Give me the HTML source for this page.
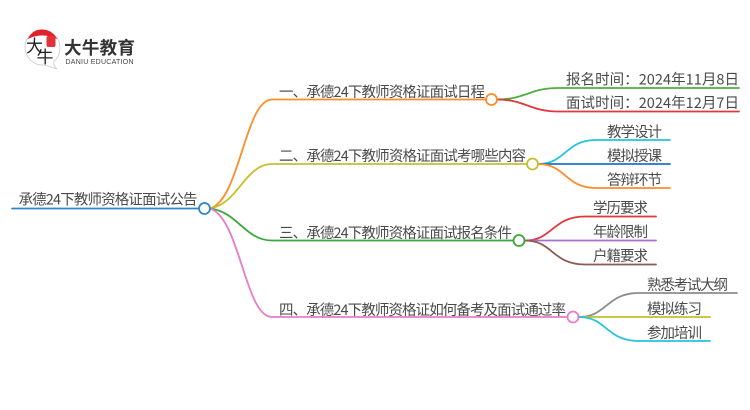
<!DOCTYPE html>
<html lang="zh">
<head>
<meta charset="utf-8">
<style>
html,body{margin:0;padding:0;background:#fff;}
svg{display:block;}
text{font-family:"Noto Sans CJK SC","WenQuanYi Zen Hei",sans-serif;font-size:14.5px;fill:#4a4a4a;font-weight:400;}
path,line{fill:none;stroke-width:1.8;stroke-linecap:round;}
circle{fill:#fff;stroke-width:1.8;}
</style>
</head>
<body>
<svg width="750" height="410" viewBox="0 0 750 410" xmlns="http://www.w3.org/2000/svg">
<!-- logo -->
<path d="M42 30 C33 30 25 38 25 47 C25 57 33 65 42 65 C46 65 51 67 57 69 C54 66 53 64 54 61 C58 58 60 53 60 47 C60 38 52 30 42 30 Z" style="stroke:#c8c8c8;stroke-width:.8;fill:#fff"/>
<path d="M29 38 C32 32 37 30 42 30 C47 30 52 32 56 38 C47 34 37 34 29 38 Z" style="fill:#e2222a;stroke:#e2222a;stroke-width:1"/>
<rect x="46.500" y="36" width="9" height="11" rx="2" fill="#e2323a"/>
<text x="26" y="52" style="font-size:17px;fill:#222">大</text>
<text x="36.500" y="63" style="font-size:17px;fill:#222">牛</text>
<text x="64" y="54" textLength="71" style="font-size:17.500px;font-weight:700;fill:#333">大牛教育</text>
<text x="65.500" y="64" textLength="68" style="font-family:'Liberation Sans',sans-serif;font-size:7px;fill:#444">DANIU EDUCATION</text>

<!-- root -->
<line x1="12" y1="208.500" x2="199" y2="208.500" stroke="#2e86c8"/>
<text x="18.500" y="204.500" textLength="179">承德24下教师资格证面试公告</text>

<!-- main branches -->
<path d="M210 208.500 C240 200 245 99.500 272 99.500 L486 99.500" stroke="#ff8c28"/>
<path d="M210 208.500 C238 204 245 164 272 164 L527 164" stroke="#c4c02c"/>
<path d="M210 208.500 C238 212 245 240.500 272 240.500 L513 240.500" stroke="#3aa83a"/>
<path d="M210 208.500 C240 218 245 317 272 317 L567 317" stroke="#e87cc8"/>

<!-- leaf branches 1 -->
<path d="M497 99.500 C525 99.500 530 88 558 88 L739 88" stroke="#4caf3e"/>
<path d="M497 99.500 C525 99.500 530 111.500 558 111.500 L739 111.500" stroke="#e0383c"/>
<!-- leaf branches 2 -->
<path d="M538 164 C566 164 565 140 596 140 L670 140" stroke="#25c4d8"/>
<path d="M538 164 L670 164" stroke="#1a78c2"/>
<path d="M538 164 C566 164 565 188 596 188 L670 188" stroke="#ff8c28"/>
<!-- leaf branches 3 -->
<path d="M525 240.500 C553 240.500 552 216.500 585 216.500 L656 216.500" stroke="#e0383c"/>
<path d="M525 240.500 L656 240.500" stroke="#a86fd0"/>
<path d="M525 240.500 C553 240.500 552 264.500 585 264.500 L656 264.500" stroke="#8c5a50"/>
<!-- leaf branches 4 -->
<path d="M579 317 C607 317 606 293 639 293 L737 293" stroke="#8c8c8c"/>
<path d="M579 317 L710 317" stroke="#c4c02c"/>
<path d="M579 317 C607 317 606 341 639 341 L710 341" stroke="#25c4d8"/>

<!-- branch labels -->
<text x="279" y="97" textLength="206">一、承德24下教师资格证面试日程</text>
<text x="279" y="161" textLength="247">二、承德24下教师资格证面试考哪些内容</text>
<text x="279" y="238" textLength="233">三、承德24下教师资格证面试报名条件</text>
<text x="279" y="315" textLength="287">四、承德24下教师资格证如何备考及面试通过率</text>

<!-- leaf labels -->
<text x="566" y="84.500" textLength="173">报名时间：2024年11月8日</text>
<text x="566" y="108" textLength="173">面试时间：2024年12月7日</text>
<text x="607" y="137" textLength="55">教学设计</text>
<text x="607" y="161" textLength="55">模拟授课</text>
<text x="607" y="185" textLength="55">答辩环节</text>
<text x="593" y="213" textLength="55">学历要求</text>
<text x="593" y="237" textLength="55">年龄限制</text>
<text x="593" y="261" textLength="55">户籍要求</text>
<text x="647" y="290" textLength="81">熟悉考试大纲</text>
<text x="647" y="314" textLength="55">模拟练习</text>
<text x="647" y="338" textLength="55">参加培训</text>

<!-- nodes -->
<circle cx="204.500" cy="208.500" r="5.500" stroke="#2e86c8"/>
<circle cx="491.500" cy="99.500" r="5.500" stroke="#ff8c28"/>
<circle cx="532.500" cy="164" r="5.500" stroke="#c4c02c"/>
<circle cx="519" cy="240.500" r="5.500" stroke="#3aa83a"/>
<circle cx="573" cy="317" r="5.500" stroke="#e87cc8"/>
</svg>
</body>
</html>
